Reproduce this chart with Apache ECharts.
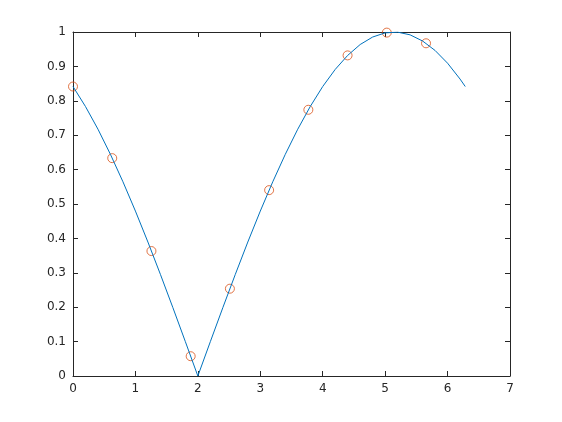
<!DOCTYPE html>
<html>
<head>
<meta charset="utf-8">
<script src="https://cdn.jsdelivr.net/npm/echarts@6/dist/echarts.min.js"></script>
<style>html,body{margin:0;padding:0;background:#fff}#c{width:562px;height:422px}</style>
</head>
<body>
<div id="c"></div>
<script>
// curve samples (x, y)
const curveX = [0,0.2,0.4,0.6,0.8,1.0,1.2,1.4,1.6,1.8,2.0,2.2,2.4,2.6,2.8,3.0,3.2,3.4,3.6,3.8,4.0,4.2,4.4,4.6,4.8,5.0,5.2,5.4,5.6,5.8,6.0,6.2,6.2832];
const curveY = [0.8415,0.7833,0.7174,0.6442,0.5646,0.4794,0.3894,0.2955,0.1987,0.0998,0,0.0998,0.1987,0.2955,0.3894,0.4794,0.5646,0.6442,0.7174,0.7833,0.8415,0.8912,0.9320,0.9636,0.9854,0.9975,0.9996,0.9917,0.9738,0.9463,0.9093,0.8632,0.8415];
// sample markers
const pointX = [0,0.6283,1.2566,1.8850,2.5133,3.1416,3.7699,4.3982,5.0265,5.6549];
const pointY = [0.8415,0.6333,0.3632,0.0575,0.2538,0.5403,0.7739,0.9320,0.9982,0.9672];
const xTicks = [0,1,2,3,4,5,6,7];
const yTicks = [0,0.1,0.2,0.3,0.4,0.5,0.6,0.7,0.8,0.9,1];

const axisColor = '#262626';
const font = 'DejaVu Sans, sans-serif';
function axisBase(show){
  return {
    axisLine:{show:true,onZero:false,lineStyle:{color:axisColor,width:1}},
    axisTick:{show:true,inside:true,length:5,lineStyle:{color:axisColor}},
    axisLabel:{show:show,color:axisColor,fontSize:12,fontFamily:font,margin:7},
    splitLine:{show:false}
  };
}
const chart = echarts.init(document.getElementById('c'));
chart.setOption({
  animation:false,
  backgroundColor:'#fff',
  grid:{left:73,right:52,top:32,bottom:46,containLabel:false},
  xAxis:[
    Object.assign({type:'value',min:xTicks[0],max:xTicks[xTicks.length-1],interval:1,position:'bottom'},axisBase(true)),
    Object.assign({type:'value',min:xTicks[0],max:xTicks[xTicks.length-1],interval:1,position:'top'},axisBase(false))
  ],
  yAxis:[
    Object.assign({type:'value',min:yTicks[0],max:yTicks[yTicks.length-1],interval:0.1,position:'left'},axisBase(true),{axisLabel:{color:axisColor,fontSize:12,fontFamily:font,margin:7,formatter:v=>String(Math.round(v*10)/10)}}),
    Object.assign({type:'value',min:yTicks[0],max:yTicks[yTicks.length-1],interval:0.1,position:'right'},axisBase(false))
  ],
  series:[
    {type:'scatter',data:pointX.map((x,i)=>[x,pointY[i]]),symbol:'circle',symbolSize:9,itemStyle:{color:'rgba(0,0,0,0)',borderColor:'#D95319',borderWidth:1},xAxisIndex:0,yAxisIndex:0,z:2},
    {type:'line',data:curveX.map((x,i)=>[x,curveY[i]]),showSymbol:false,smooth:false,lineStyle:{color:'#0072BD',width:1},xAxisIndex:0,yAxisIndex:0,z:3}
  ]
});
</script>
</body>
</html>
